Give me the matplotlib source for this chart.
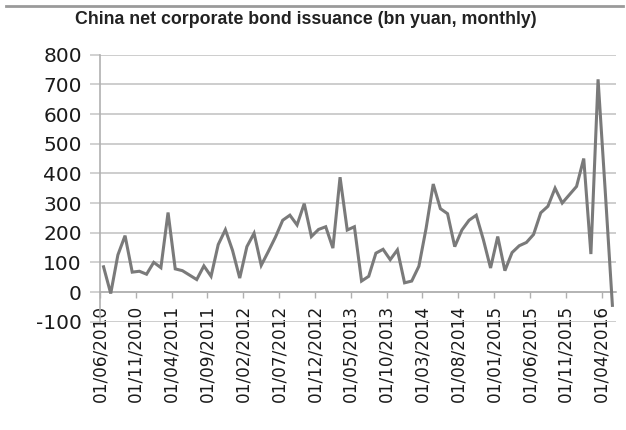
import matplotlib
matplotlib.use("Agg")
import matplotlib.pyplot as plt
from matplotlib.lines import Line2D

# Monthly net corporate bond issuance, bn yuan (Jun 2010 onward)
issuance = [85, -5, 125, 190, 67, 70, 60, 100, 82, 268,
            78, 72, 57, 42, 88, 53, 160, 210, 140, 47,
            153, 198, 90, 137, 186, 242, 259, 226, 298, 187,
            211, 220, 148, 387, 209, 220, 37, 53, 131, 144,
            109, 142, 31, 37, 87, 214, 364, 281, 264, 153,
            209, 242, 259, 176, 81, 187, 72, 133, 156, 167,
            194, 267, 289, 350, 300, 328, 356, 450, 128, 717,
            340, -45]

tick_labels = ["01/06/2010", "01/11/2010", "01/04/2011", "01/09/2011",
               "01/02/2012", "01/07/2012", "01/12/2012", "01/05/2013",
               "01/10/2013", "01/03/2014", "01/08/2014", "01/01/2015",
               "01/06/2015", "01/11/2015", "01/04/2016"]
y_ticks = [-100, 0, 100, 200, 300, 400, 500, 600, 700, 800]

title = "China net corporate bond issuance (bn yuan, monthly)"

fig = plt.figure(figsize=(6.26, 4.30), dpi=100)
ax = fig.add_axes([0.1597, 0.2519, 0.8243, 0.6209])

# axis line crosses at zero; set before tick labels since it resets ticks
for s in ["top", "right"]:
    ax.spines[s].set_visible(False)
ax.spines["bottom"].set_position(("data", 0))
ax.spines["bottom"].set_color("#b0b0b0")
ax.spines["bottom"].set_linewidth(1.2)
ax.spines["left"].set_color("#b0b0b0")
ax.spines["left"].set_linewidth(1.2)

x = list(range(len(issuance)))
ax.plot(x, issuance, color="#7a7a7a", lw=2.2, solid_joinstyle="miter", zorder=3)

ax.set_xlim(-0.5, len(issuance) - 0.5)
ax.set_ylim(-100, 800)

ax.set_yticks(y_ticks)
ax.set_yticklabels([str(v) for v in y_ticks], fontsize=14.5, color="#1a1a1a")
ax.yaxis.grid(True, color="#c9c9c9", lw=1.3)
ax.set_axisbelow(True)

xt = [-0.5 + 5 * k for k in range(len(tick_labels))]
ax.set_xticks(xt)
ax.set_xticklabels(tick_labels, rotation=90, fontsize=12.2, color="#1a1a1a",
                   va="top", ha="center")

ax.tick_params(axis="y", length=7, width=1.2, color="#c9c9c9", pad=6)
ax.tick_params(axis="x", length=4, width=1.0, color="#b0b0b0", pad=5)

fig.text(0.12, 0.955, title, fontsize=12.8, fontweight="bold",
         family="Liberation Sans", color="#222222", va="center", ha="left")

fig.add_artist(Line2D([0.01, 0.995], [0.985, 0.985], transform=fig.transFigure,
                      color="#9a9a9a", lw=2.0))

fig.savefig("out.png", dpi=100)
